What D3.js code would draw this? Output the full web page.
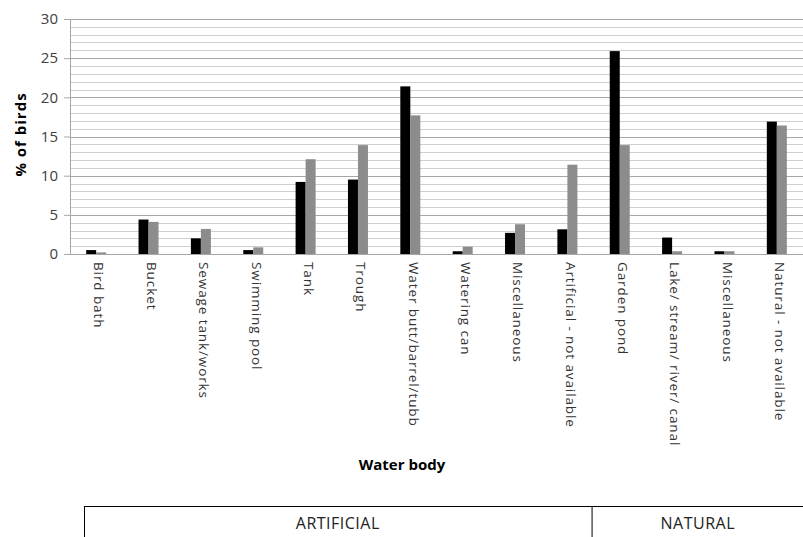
<!DOCTYPE html>
<html>
<head>
<meta charset="utf-8">
<script src="https://cdn.jsdelivr.net/npm/d3@7"></script>
<style>
  body { margin: 0; background: #fff; }
  svg { display: block; }
</style>
</head>
<body>
<div id="chart"></div>
<script>
// chart data
var categories = ["Bird bath", "Bucket", "Sewage tank/works", "Swimming pool", "Tank", "Trough",
    "Water butt/barrel/tubb", "Watering can", "Miscellaneous", "Artificial - not available",
    "Garden pond", "Lake/ stream/ river/ canal", "Miscellaneous", "Natural - not available"];
var seriesBlack = [0.5, 4.4, 2.0, 0.5, 9.2, 9.5, 21.4, 0.35, 2.7, 3.15, 25.9, 2.1, 0.35, 16.9];
var seriesGrey = [0.2, 4.1, 3.2, 0.85, 12.1, 13.9, 17.7, 0.93, 3.8, 11.4, 13.9, 0.35, 0.35, 16.4];
var yTicks = [0, 5, 10, 15, 20, 25, 30];
var groups = [
    { name: "ARTIFICIAL", from: 0, to: 9 },
    { name: "NATURAL", from: 10, to: 13 }
];

var svgWidth = 803;
var svgHeight = 537;

var margin = { top: 19, right: 0, bottom: 283, left: 70 };
var width = svgWidth - margin.left - margin.right;
var height = svgHeight - margin.top - margin.bottom;

var svg = d3.select("#chart")
    .append("svg")
    .attr("width", svgWidth)
    .attr("height", svgHeight);

var chartGroup = svg.append("g")
    .attr("transform", `translate(${margin.left}, ${margin.top})`);

// scales
var xScale = d3.scaleBand()
    .domain(d3.range(categories.length))
    .range([0, width])
    .padding(0);

var barW = 10;
var xSub = d3.scaleBand()
    .domain(["black", "grey"])
    .range([0, xScale.bandwidth()])
    .paddingInner(0)
    .paddingOuter((xScale.bandwidth() / barW - 2) / 2);

var yScale = d3.scaleLinear()
    .domain([0, 30])
    .range([height, 0]);

// minor gridlines (every 1%)
chartGroup.append("g")
    .selectAll("line")
    .data(d3.range(1, 30).filter(v => v % 5 !== 0))
    .enter()
    .append("line")
    .attr("x1", 0)
    .attr("x2", width)
    .attr("y1", d => Math.round(yScale(d)) + 0.5)
    .attr("y2", d => Math.round(yScale(d)) + 0.5)
    .attr("stroke", "#cfcfcf")
    .attr("stroke-width", 1);

// major gridlines
chartGroup.append("g")
    .selectAll("line")
    .data(yTicks.filter(v => v > 0))
    .enter()
    .append("line")
    .attr("x1", 0)
    .attr("x2", width)
    .attr("y1", d => Math.round(yScale(d)) + 0.5)
    .attr("y2", d => Math.round(yScale(d)) + 0.5)
    .attr("stroke", "#a6a6a6")
    .attr("stroke-width", 1);

// y axis
var leftAxis = d3.axisLeft(yScale)
    .tickValues(yTicks)
    .tickSize(6)
    .tickPadding(6);

var yAxis = chartGroup.append("g")
    .call(leftAxis);
yAxis.select(".domain").attr("stroke", "#a6a6a6");
yAxis.selectAll(".tick line").attr("stroke", "#a6a6a6");
yAxis.selectAll(".tick text")
    .attr("fill", "#404040")
    .style("font-family", "'Open Sans', sans-serif")
    .style("font-size", "15px");

// bars
var barGroups = chartGroup.selectAll(".cat")
    .data(categories)
    .enter()
    .append("g")
    .attr("transform", (d, i) => `translate(${xScale(i)}, 0)`);

barGroups.append("rect")
    .attr("x", xSub("black"))
    .attr("width", xSub.bandwidth())
    .attr("y", (d, i) => yScale(seriesBlack[i]))
    .attr("height", (d, i) => height - yScale(seriesBlack[i]))
    .attr("fill", "#000");

barGroups.append("rect")
    .attr("x", xSub("grey"))
    .attr("width", xSub.bandwidth())
    .attr("y", (d, i) => yScale(seriesGrey[i]))
    .attr("height", (d, i) => height - yScale(seriesGrey[i]))
    .attr("fill", "#8c8c8c");

// x axis baseline
var bottomAxis = d3.axisBottom(xScale)
    .tickSize(0)
    .tickFormat(i => categories[i]);

var xAxis = chartGroup.append("g")
    .attr("transform", `translate(0, ${height})`)
    .call(bottomAxis);
xAxis.select(".domain").attr("stroke", "#a6a6a6");
xAxis.selectAll(".tick text")
    .attr("transform", "rotate(90)")
    .attr("x", 8)
    .attr("y", -3)
    .attr("dy", "0.35em")
    .attr("text-anchor", "start")
    .attr("fill", "#333")
    .style("font-family", "'Open Sans', sans-serif")
    .style("font-size", "13.5px")
    .style("letter-spacing", "0.9px");

// axis titles
chartGroup.append("text")
    .attr("transform", "rotate(-90)")
    .attr("x", -height / 2 + 2)
    .attr("y", -margin.left + 26)
    .attr("text-anchor", "middle")
    .style("font-family", "'Open Sans', sans-serif")
    .style("font-size", "15px")
    .style("font-weight", "bold")
    .style("letter-spacing", "1px")
    .text("% of birds");

chartGroup.append("text")
    .attr("x", 332)
    .attr("y", height + 216)
    .attr("text-anchor", "middle")
    .style("font-family", "'Open Sans', sans-serif")
    .style("font-size", "15px")
    .style("font-weight", "bold")
    .text("Water body");

// group box under the chart
var boxTop = height + 252;
var boxG = chartGroup.append("g");
var boxLeft = xScale(0) + 14;
var boxRight = width + 1;
var divider = xScale(groups[1].from) - 2;

boxG.append("line")
    .attr("x1", boxLeft).attr("x2", boxRight)
    .attr("y1", boxTop + 0.5).attr("y2", boxTop + 0.5)
    .attr("stroke", "#000");
boxG.append("line")
    .attr("x1", boxLeft + 0.5).attr("x2", boxLeft + 0.5)
    .attr("y1", boxTop).attr("y2", svgHeight)
    .attr("stroke", "#000");
boxG.append("line")
    .attr("x1", divider + 0.5).attr("x2", divider + 0.5)
    .attr("y1", boxTop).attr("y2", svgHeight)
    .attr("stroke", "#000");

boxG.selectAll(".grp")
    .data(groups)
    .enter()
    .append("text")
    .attr("x", (d, i) => i === 0 ? (boxLeft + divider) / 2 : (divider + boxRight) / 2)
    .attr("y", boxTop + 23)
    .attr("text-anchor", "middle")
    .attr("fill", "#222")
    .style("font-family", "'Open Sans', sans-serif")
    .style("font-size", "16px")
    .style("letter-spacing", "0.5px")
    .text(d => d.name);
</script>
</body>
</html>
